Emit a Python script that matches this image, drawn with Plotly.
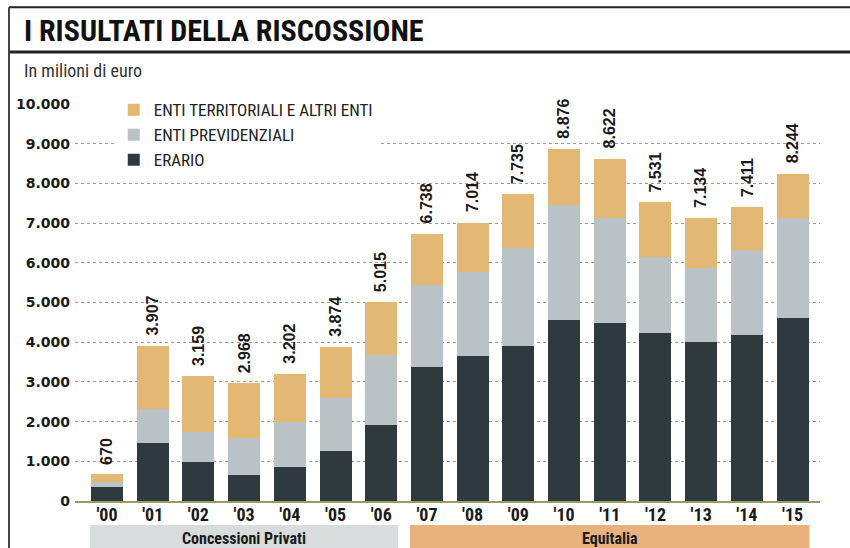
import plotly.graph_objects as go

years = ["'00", "'01", "'02", "'03", "'04", "'05", "'06", "'07",
         "'08", "'09", "'10", "'11", "'12", "'13", "'14", "'15"]
totals = [670, 3907, 3159, 2968, 3202, 3874, 5015, 6738,
          7014, 7735, 8876, 8622, 7531, 7134, 7411, 8244]
erario = [360, 1450, 970, 660, 850, 1270, 1910, 3380,
          3650, 3900, 4560, 4480, 4240, 4010, 4180, 4600]
previdenziali = [130, 880, 780, 920, 1150, 1320, 1770, 2060,
                 2130, 2470, 2900, 2640, 1910, 1850, 2140, 2520]
territoriali = [t - e - p for t, e, p in zip(totals, erario, previdenziali)]

series_names = ["ERARIO", "ENTI PREVIDENZIALI", "ENTI TERRITORIALI E ALTRI ENTI"]
series_colors = ["#2f3a3e", "#b9c2c5", "#e2b874"]
periods = ["Concessioni Privati", "Equitalia"]
period_years = [(0, 6), (7, 15)]
period_colors = ["#d9dcdc", "#e9b27c"]

NARROW = "Liberation Sans Narrow, Arial Narrow, Roboto Condensed, sans-serif"

x = list(range(len(years)))
fig = go.Figure()
for name, vals, col in zip(series_names, [erario, previdenziali, territoriali], series_colors):
    fig.add_trace(go.Bar(x=x, y=vals, name=name, marker=dict(color=col, line=dict(width=0)),
                         width=0.7))

# value labels
for xi, t in zip(x, totals):
    fig.add_annotation(x=xi, y=t, text=f"{t:,}".replace(",", "."), textangle=-90,
                       showarrow=False, yanchor="bottom", yshift=8,
                       font=dict(family="Liberation Sans, Arial, sans-serif", size=16,
                                 color="#1a1a1a", weight="bold"))

# period bands
for label, (a, b), col in zip(periods, period_years, period_colors):
    fig.add_shape(type="rect", xref="x", yref="paper", x0=a - 0.37, x1=b + 0.37,
                  y0=-0.12, y1=-0.0605, fillcolor=col, line=dict(width=0), layer="below")
    fig.add_annotation(x=(a + b) / 2, xref="x", yref="paper", y=-0.094, yanchor="middle",
                       text=f"<b>{label}</b>", showarrow=False,
                       font=dict(family=NARROW, size=16, color="#1a1a1a"))

# frame lines
fig.add_shape(type="line", xref="paper", yref="paper", x0=-0.0886, x1=1.05, y0=1.244, y1=1.244,
              line=dict(color="#222", width=2))
fig.add_shape(type="line", xref="paper", yref="paper", x0=-0.0886, x1=1.05, y0=1.131, y1=1.131,
              line=dict(color="#222", width=3))
fig.add_shape(type="line", xref="paper", yref="paper", x0=-0.0886, x1=-0.0886, y0=1.244, y1=-0.12,
              line=dict(color="#444", width=2))

fig.add_annotation(xref="paper", yref="paper", x=-0.0711, y=1.186, xanchor="left", yanchor="middle",
                   text="<b>I RISULTATI DELLA RISCOSSIONE</b>", showarrow=False,
                   font=dict(family=NARROW, size=30, color="#111"))
fig.add_annotation(xref="paper", yref="paper", x=-0.0711, y=1.0856, xanchor="left", yanchor="middle",
                   text="In milioni di euro", showarrow=False,
                   font=dict(family=NARROW, size=18, color="#333"))

fig.update_layout(
    width=850, height=548,
    margin=dict(l=75, r=30, t=104, b=47),
    barmode="stack",
    bargap=0.3,
    plot_bgcolor="white", paper_bgcolor="white",
    separators=",.",
    showlegend=True,
    legend=dict(x=0.052, y=1.03, xanchor="left", yanchor="top", traceorder="reversed",
                bgcolor="white", font=dict(family=NARROW, size=17, color="#222"),
                itemclick=False, tracegroupgap=0),
    xaxis=dict(range=[-0.7, 15.6], tickvals=x, ticktext=years, showgrid=False,
               showline=True, linecolor="#9c9a60", linewidth=2, ticks="", ticklen=0,
               ticklabelstandoff=-4,
               tickfont=dict(family=NARROW, size=18, color="#1a1a1a", weight="bold"),
               fixedrange=True),
    yaxis=dict(range=[0, 10000], tickvals=list(range(0, 10001, 1000)), tickformat=",d",
               showgrid=True, gridcolor="#9a9a9a", gridwidth=1, griddash="dot",
               zeroline=False, ticks="", ticklabelstandoff=4,
               tickfont=dict(family="DejaVu Sans, sans-serif", size=14, color="#1a1a1a", weight="bold"),
               fixedrange=True),
)

fig.write_html("out.html")
